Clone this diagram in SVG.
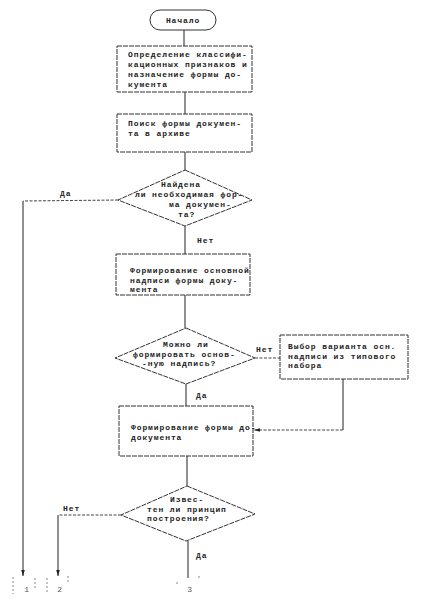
<svg xmlns="http://www.w3.org/2000/svg" width="424" height="601" viewBox="0 0 424 601">
<style>
  .shape{fill:#fff;stroke:#333;stroke-width:1;stroke-dasharray:5 1}
  .line{fill:none;stroke:#222;stroke-width:1}
  .dot{fill:none;stroke:#444;stroke-width:1;stroke-dasharray:3 1.5}
  text{font-family:"Liberation Mono","DejaVu Sans Mono",monospace;font-size:8px;letter-spacing:0.9px;font-weight:bold;fill:#222}
  .c{text-anchor:middle}
  .tick{stroke:#888;stroke-width:1;stroke-dasharray:2 2}
</style>
<defs>
  <marker id="arr" viewBox="0 0 10 10" refX="10" refY="5" markerWidth="6" markerHeight="7" orient="auto" markerUnits="userSpaceOnUse">
    <path d="M0,2 L10,5 L0,8 Z" fill="#222"/>
  </marker>
</defs>
<rect width="424" height="601" fill="#fff"/>

<g id="connectors">
  <line class="line" x1="184" y1="30" x2="184" y2="46"/>
  <line class="line" x1="185" y1="92" x2="185" y2="114"/>
  <line class="line" x1="185" y1="152" x2="185" y2="170"/>
  <polyline class="dot" points="118,200 23,201"/>
  <line class="line" x1="23" y1="201" x2="23" y2="576" marker-end="url(#arr)"/>
  <line class="line" x1="185" y1="226" x2="185" y2="254"/>
  <line class="line" x1="185" y1="295" x2="185" y2="328"/>
  <line class="dot" x1="255" y1="358" x2="280" y2="358"/>
  <line class="line" x1="343" y1="379" x2="343" y2="430"/>
  <line class="dot" x1="343" y1="430" x2="254" y2="430" marker-end="url(#arr)"/>
  <line class="line" x1="186" y1="384" x2="186" y2="406"/>
  <line class="line" x1="187" y1="456" x2="187" y2="486"/>
  <polyline class="dot" points="121,515 58,515"/>
  <line class="line" x1="58" y1="515" x2="58" y2="576" marker-end="url(#arr)"/>
  <line class="line" x1="188" y1="541" x2="188" y2="578"/>
  <text x="60" y="196">Да</text>
  <text x="197" y="243">Нет</text>
  <text x="256" y="352">Нет</text>
  <text x="196" y="398">Да</text>
  <text x="63" y="511">Нет</text>
  <text x="196" y="558">Да</text>
</g>

<g id="start">
  <rect class="shape" x="150" y="10" width="66" height="20" rx="10" ry="10" style="stroke-dasharray:none"/>
  <text class="c" x="183" y="23">Начало</text>
</g>

<g id="box1">
  <rect class="shape" x="117" y="46" width="135" height="46"/>
  <text x="128" y="57">Определение классифи-</text>
  <text x="128" y="67">кационных признаков и</text>
  <text x="128" y="77">назначение формы до-</text>
  <text x="128" y="87">кумента</text>
</g>

<g id="box2">
  <rect class="shape" x="117" y="114" width="135" height="38"/>
  <text x="128" y="126">Поиск формы докумен-</text>
  <text x="128" y="136">та в архиве</text>
</g>

<g id="decision1">
  <polygon class="shape" points="185,170 252,200 185,226 118,200"/>
  <text x="161" y="187">Найдена</text>
  <text x="135" y="197">ли необходимая фор-</text>
  <text x="169" y="207">ма докумен-</text>
  <text x="178" y="217">та?</text>
</g>

<g id="box3">
  <rect class="shape" x="116" y="254" width="134" height="41"/>
  <text x="130" y="273">Формирование основной</text>
  <text x="130" y="282.5">надписи формы доку-</text>
  <text x="130" y="292">мента</text>
</g>

<g id="decision2">
  <polygon class="shape" points="186,328 255,358 186,384 115,358"/>
  <text x="163" y="347">Можно ли</text>
  <text x="133" y="356.5">формировать основ-</text>
  <text x="142" y="366">-ную надпись?</text>
</g>

<g id="box4">
  <rect class="shape" x="280" y="335" width="128" height="44"/>
  <text x="288" y="349">Выбор варианта осн.</text>
  <text x="288" y="358.5">надписи из типового</text>
  <text x="288" y="368">набора</text>
</g>

<g id="box5">
  <rect class="shape" x="119" y="406" width="134" height="50"/>
  <text x="131" y="430">Формирование формы до-</text>
  <text x="131" y="440">документа</text>
</g>

<g id="decision3">
  <polygon class="shape" points="187,486 255,514 186,541 121,515"/>
  <text x="170" y="502">Извес-</text>
  <text x="147" y="511.5">тен ли принцип</text>
  <text x="147" y="521">построения?</text>
</g>

<g id="ref1">
  <line class="tick" x1="13" y1="577" x2="13" y2="594"/>
  <line class="tick" x1="35" y1="578" x2="35" y2="588"/>
  <text class="c" x="27" y="592" style="font-weight:normal;fill:#555">1</text>
</g>
<g id="ref2">
  <line class="tick" x1="47" y1="578" x2="47" y2="594"/>
  <line class="tick" x1="68" y1="576" x2="68" y2="582"/>
  <text class="c" x="60" y="592" style="font-weight:normal;fill:#555">2</text>
</g>
<g id="ref3">
  <line class="tick" x1="177" y1="582" x2="177" y2="586"/>
  <line class="tick" x1="199" y1="576" x2="199" y2="580"/>
  <text class="c" x="190" y="592" style="font-weight:normal;fill:#555">3</text>
</g>
</svg>
